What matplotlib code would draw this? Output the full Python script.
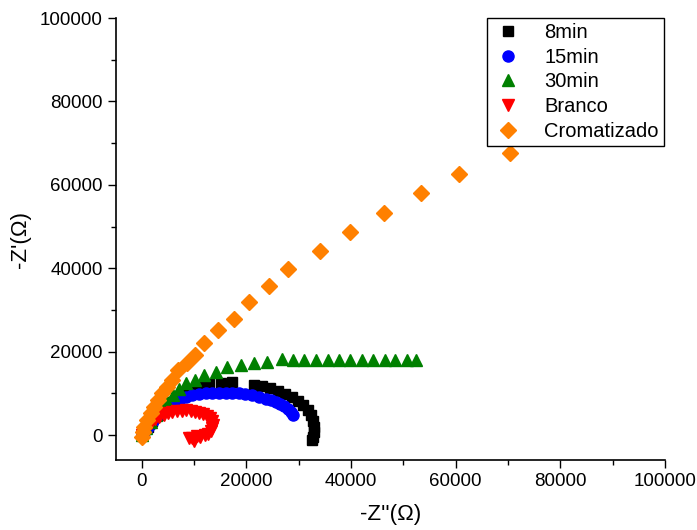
import matplotlib
matplotlib.use("Agg")
import matplotlib.pyplot as plt
from matplotlib.ticker import MultipleLocator

plt.rcParams['font.family'] = ['Liberation Sans', 'DejaVu Sans']

labels = ["8min", "15min", "30min", "Branco", "Cromatizado"]

x_8min = [0, 500, 1200, 2000, 3000, 4200, 5500, 7000, 8800, 10800, 12800, 15100, 17300,
          21500, 23000, 24500, 26000, 27400, 28700, 29900, 30900, 31800, 32400, 32800,
          33000, 33000, 32800, 32600]
y_8min = [0, 800, 2000, 3300, 4800, 6400, 8000, 9400, 10600, 11800, 12200, 12500, 12800,
          12000, 11700, 11200, 10600, 9900, 9100, 8200, 7200, 6000, 4700, 3400,
          2000, 800, -400, -1200]

x_15min = [0, 400, 900, 1500, 2200, 3000, 4000, 5000, 6000, 7200, 8400, 9600, 10900,
           12200, 13500, 14800, 16000, 17300, 18600, 19800, 21100, 22400, 23700, 24700,
           25600, 26400, 27200, 27900, 28500, 28800]
y_15min = [0, 700, 1500, 2400, 3400, 4500, 5700, 7200, 8000, 8600, 9200, 9500, 9800,
           10000, 10100, 10100, 10100, 10100, 10000, 9800, 9600, 9200, 8700, 8300,
           7900, 7400, 6900, 6300, 5600, 4800]

x_30min = [0, 700, 1700, 2700, 3900, 4850, 5900, 7100, 8500, 10200, 11900, 14100, 16300,
           18900, 21500, 24000, 26800, 28800, 31000, 33300, 35600, 37700, 39800, 42000,
           44100, 46400, 48300, 50600, 52400]
y_30min = [0, 1600, 3200, 4800, 6400, 8000, 9600, 11000, 12400, 13200, 14400, 15200, 16200,
           16800, 17200, 17400, 18300, 18100, 18000, 18000, 18000, 18000, 18000, 18000,
           18000, 18000, 17900, 18000, 17900]

x_branco = [0, 400, 1000, 1800, 2600, 3300, 4200, 5000, 5800, 6700, 7600, 8500, 9300,
            10200, 11000, 11700, 12400, 13000, 13400, 13600, 13500, 13200, 12700, 12000,
            11200, 10500, 9900, 9500, 9000]
y_branco = [0, 800, 2000, 3000, 3800, 4300, 4800, 5200, 5500, 5700, 5800, 5900, 5800,
            5600, 5300, 5000, 4600, 4000, 3300, 2500, 1700, 1000, 300, -100,
            -500, -200, -1400, -600, -800]

x_crom = [0, 200, 500, 1000, 1700, 2300, 3100, 3900, 4850, 5800, 7000, 8700, 10200,
          11900, 14500, 17600, 20500, 24400, 28000, 34100, 39700, 46200, 53400, 60600, 70300]
y_crom = [-500, 800, 2000, 3600, 5200, 6800, 8400, 10000, 11600, 13200, 15600, 17200, 19300,
          22100, 25100, 27800, 31800, 35700, 39800, 44100, 48600, 53300, 58000, 62600, 67600]

fig = plt.figure(figsize=(6.97, 5.30), dpi=100)
ax = fig.add_axes([0.166, 0.132, 0.788, 0.834])

ax.plot(x_8min, y_8min, linestyle='none', marker='s', ms=7.5, color='black', label=labels[0])
ax.plot(x_15min, y_15min, linestyle='none', marker='o', ms=8, color='#0000ff', label=labels[1])
ax.plot(x_30min, y_30min, linestyle='none', marker='^', ms=9, color='#008000', label=labels[2])
ax.plot(x_branco, y_branco, linestyle='none', marker='v', ms=9, color='#ff0000', label=labels[3])
ax.plot(x_crom, y_crom, linestyle='none', marker='D', ms=8.5, color='#ff8000', label=labels[4])

ax.set_xlim(-5000, 100000)
ax.set_ylim(-6000, 100000)
ax.xaxis.set_major_locator(MultipleLocator(20000))
ax.xaxis.set_minor_locator(MultipleLocator(10000))
ax.yaxis.set_major_locator(MultipleLocator(20000))
ax.yaxis.set_minor_locator(MultipleLocator(10000))
ax.tick_params(which='major', direction='out', length=6, width=1, labelsize=13.5)
ax.tick_params(which='minor', direction='out', length=3.5, width=1)
for s in ['top', 'right']:
    ax.spines[s].set_visible(False)
for s in ['left', 'bottom']:
    ax.spines[s].set_linewidth(1.2)

ax.set_xlabel("-Z''(\u03a9)", fontsize=16, labelpad=10)
ax.set_ylabel("-Z'(\u03a9)", fontsize=16, labelpad=6)

leg = ax.legend(loc='upper right', fontsize=14.5, frameon=True, fancybox=False,
                edgecolor='black', framealpha=1, labelspacing=0.28,
                handlelength=1.6, handletextpad=1.0, borderpad=0.25,
                borderaxespad=0, bbox_to_anchor=(0.998, 1.0))
leg.get_frame().set_linewidth(1.0)

fig.savefig("out.png", dpi=100)
